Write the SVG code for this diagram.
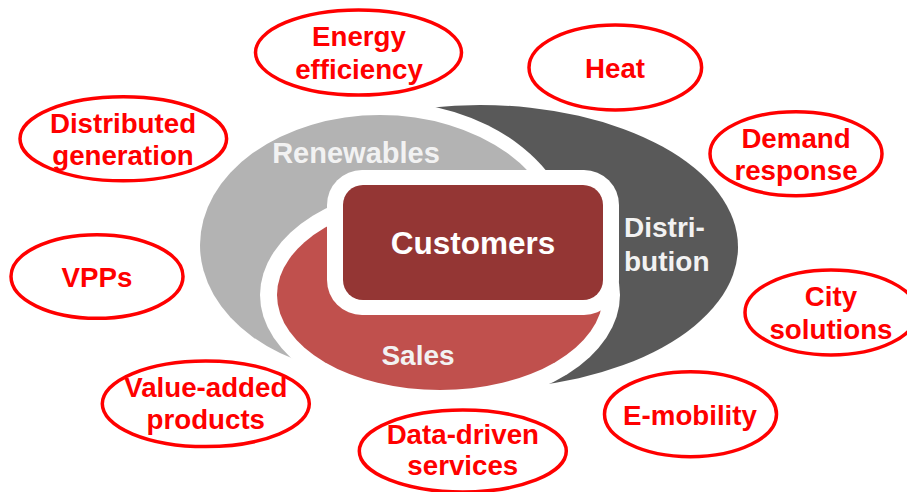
<svg xmlns="http://www.w3.org/2000/svg" width="907" height="492" viewBox="0 0 907 492">
<style>
.oval{fill:none;stroke:#ff0000;stroke-width:3.5}
.lbl{font-family:"Liberation Sans",Arial,sans-serif;font-weight:bold;font-size:27.7px;fill:#ff0000;text-anchor:middle}
.core{font-family:"Liberation Sans",Arial,sans-serif;font-weight:bold;font-size:28px;fill:#f2f2f2}
.halo{fill:#ffffff}
</style>
<rect width="907" height="492" fill="#ffffff"/>
<g id="distribution">
  <ellipse cx="480" cy="247" rx="258" ry="142" fill="#595959"/>
  <text class="core" x="624" y="237">Distri-</text>
  <text class="core" x="624" y="271">bution</text>
</g>
<g id="renewables">
  <ellipse class="halo" cx="380" cy="245" rx="194" ry="144"/>
  <ellipse cx="380" cy="245" rx="180" ry="130" fill="#b3b3b3"/>
  <text class="core" x="356" y="163" text-anchor="middle" style="font-size:29px">Renewables</text>
</g>
<g id="sales">
  <ellipse class="halo" cx="440" cy="295" rx="180" ry="112"/>
  <ellipse cx="440" cy="295" rx="163" ry="95" fill="#c0504d"/>
  <text class="core" x="418" y="365" text-anchor="middle">Sales</text>
</g>
<g id="customers">
  <rect class="halo" x="327" y="170" width="292" height="145" rx="35"/>
  <rect x="343" y="185" width="260" height="115" rx="20" fill="#943634"/>
  <text class="core" x="473" y="254" text-anchor="middle" style="font-size:31.5px;fill:#ffffff">Customers</text>
</g>
<g id="energy-efficiency">
  <ellipse class="oval" cx="358.5" cy="52.5" rx="103" ry="42.5"/>
  <text class="lbl" x="359" y="46">Energy</text>
  <text class="lbl" x="359" y="79">efficiency</text>
</g>
<g id="heat">
  <ellipse class="oval" cx="615.3" cy="67.5" rx="86.3" ry="42.5"/>
  <text class="lbl" x="615" y="78.3">Heat</text>
</g>
<g id="distributed-generation">
  <ellipse class="oval" cx="123.3" cy="138.8" rx="103.3" ry="42"/>
  <text class="lbl" x="123" y="132.7">Distributed</text>
  <text class="lbl" x="123" y="165.3">generation</text>
</g>
<g id="demand-response">
  <ellipse class="oval" cx="796" cy="153.7" rx="86" ry="42"/>
  <text class="lbl" x="796" y="147.7">Demand</text>
  <text class="lbl" x="796" y="180">response</text>
</g>
<g id="vpps">
  <ellipse class="oval" cx="97" cy="276.5" rx="86" ry="41.8"/>
  <text class="lbl" x="97" y="286.7">VPPs</text>
</g>
<g id="city-solutions">
  <ellipse class="oval" cx="831" cy="312.5" rx="86" ry="42.5"/>
  <text class="lbl" x="831" y="305.7">City</text>
  <text class="lbl" x="831" y="339.3">solutions</text>
</g>
<g id="value-added-products">
  <ellipse class="oval" cx="205.8" cy="403.8" rx="103.5" ry="42.8"/>
  <text class="lbl" x="205.8" y="396.7">Value-added</text>
  <text class="lbl" x="205.8" y="429.3">products</text>
</g>
<g id="data-driven-services">
  <ellipse class="oval" cx="462.8" cy="451" rx="103.5" ry="41"/>
  <text class="lbl" x="462.8" y="444">Data-driven</text>
  <text class="lbl" x="462.8" y="475">services</text>
</g>
<g id="e-mobility">
  <ellipse class="oval" cx="690.5" cy="414.2" rx="86" ry="42.5"/>
  <text class="lbl" x="690" y="425">E-mobility</text>
</g>
<g id="connectors"/>
</svg>
